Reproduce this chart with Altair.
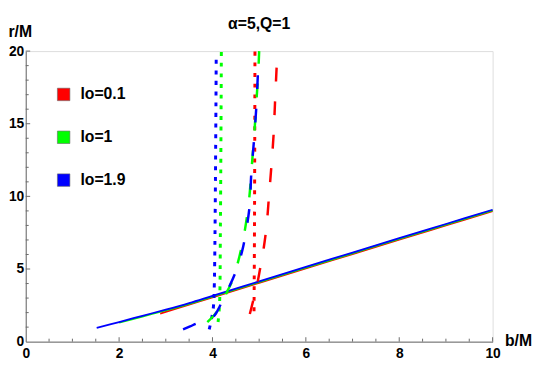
import altair as alt
import pandas as pd

# ---- data ----
series_names = ["lo=0.1", "lo=1", "lo=1.9"]
series_colors = ["#ff0000", "#00ff00", "#0000ff"]

# solid curves (b, r)
red_solid_b = [2.88, 3.5, 4.0, 5.0, 6.0, 7.0, 8.0, 9.0, 10.0]
red_solid_r = [1.93, 2.55, 3.05, 4.05, 5.05, 6.03, 7.02, 8.0, 8.98]
green_solid_b = [2.0, 2.5, 3.0, 3.5, 4.0, 5.0, 6.0, 7.0, 8.0, 9.0, 10.0]
green_solid_r = [1.3, 1.73, 2.15, 2.6, 3.1, 4.1, 5.1, 6.08, 7.07, 8.05, 9.03]
blue_solid_b = [1.52, 2.0, 2.5, 3.0, 3.5, 4.0, 5.0, 6.0, 7.0, 8.0, 9.0, 10.0]
blue_solid_r = [0.95, 1.35, 1.78, 2.2, 2.65, 3.15, 4.15, 5.15, 6.13, 7.12, 8.1, 9.08]

# dashed curves
red_dashed_b = [4.8, 4.87, 4.96, 5.03, 5.1, 5.16, 5.21, 5.26, 5.31, 5.34, 5.38]
red_dashed_r = [1.9, 2.8, 4.0, 5.2, 6.5, 8.0, 10.0, 12.0, 14.3, 16.5, 19.3]
green_dashed_b = [3.89, 4.03, 4.16, 4.33, 4.43, 4.58, 4.7, 4.79, 4.84, 4.9, 4.94, 4.98, 5.0]
green_dashed_r = [1.35, 1.8, 2.37, 3.55, 4.22, 5.9, 7.8, 9.97, 12.0, 14.5, 16.5, 18.5, 20.0]
blue_dashed_b = [3.37, 3.52, 3.66, 3.85, 4.0, 4.12, 4.22, 4.37, 4.52, 4.64, 4.73, 4.8, 4.83, 4.89, 4.94, 4.98]
blue_dashed_r = [0.85, 1.05, 1.25, 1.45, 1.65, 2.2, 2.9, 3.86, 5.0, 6.3, 7.8, 9.5, 11.5, 13.9, 16.2, 19.0]

# dotted curves
red_dotted_b = [4.89, 4.9, 4.91]
red_dotted_r = [2.1, 8.0, 20.0]
green_dotted_b = [4.12, 4.15, 4.17, 4.19]
green_dotted_r = [1.35, 2.5, 8.0, 20.0]
blue_dotted_b = [3.93, 3.97, 4.02, 4.04, 4.08]
blue_dotted_r = [0.85, 1.4, 2.4, 4.0, 19.6]

x_major_ticks = [2, 4, 6, 8, 10]
x_minor_ticks = [0.5, 1, 1.5, 2.5, 3, 3.5, 4.5, 5, 5.5, 6.5, 7, 7.5, 8.5, 9, 9.5]
y_major_ticks = [5, 10, 15, 20]
y_minor_ticks = [1, 2, 3, 4, 6, 7, 8, 9, 11, 12, 13, 14, 16, 17, 18, 19]
x_labels = [0, 2, 4, 6, 8, 10]
y_labels = [0, 5, 10, 15, 20]

curves = {
    ("solid", 0): (red_solid_b, red_solid_r),
    ("solid", 1): (green_solid_b, green_solid_r),
    ("solid", 2): (blue_solid_b, blue_solid_r),
    ("dotted", 0): (red_dotted_b, red_dotted_r),
    ("dotted", 1): (green_dotted_b, green_dotted_r),
    ("dotted", 2): (blue_dotted_b, blue_dotted_r),
    ("dashed", 0): (red_dashed_b, red_dashed_r),
    ("dashed", 1): (green_dashed_b, green_dashed_r),
    ("dashed", 2): (blue_dashed_b, blue_dashed_r),
}

W, H = 474, 295
FONT = "Liberation Sans"
AXIS_GRAY = "#6b6b6b"

xscale = alt.Scale(domain=[0, 10], nice=False, zero=False)
yscale = alt.Scale(domain=[0, 20], nice=False, zero=False)
cscale = alt.Scale(domain=series_names, range=series_colors)

xaxis = alt.Axis(values=x_labels, ticks=False, grid=False, domainColor=AXIS_GRAY,
                 labelFont=FONT, labelFontSize=14, labelFontWeight="bold",
                 labelColor="black", labelPadding=5, labelFlush=False,
                 title="b/M", titleFont=FONT, titleFontSize=16, titleFontWeight="bold",
                 titleColor="black", titleAlign="left", titleBaseline="middle",
                 titleX=486, titleY=-1.5, titleAngle=0)
yaxis = alt.Axis(values=y_labels, ticks=False, grid=False, domainColor=AXIS_GRAY,
                 labelFont=FONT, labelFontSize=14, labelFontWeight="bold",
                 labelColor="black", labelPadding=2, labelFlush=False,
                 title="r/M", titleFont=FONT, titleFontSize=16, titleFontWeight="bold",
                 titleColor="black", titleAlign="left", titleBaseline="alphabetic",
                 titleX=-18, titleY=-14.5, titleAngle=0)

styles = {
    "solid": dict(strokeWidth=1.8),
    "dotted": dict(strokeWidth=3, strokeDash=[4, 6.8]),
    "dashed": dict(strokeWidth=2.5, strokeDash=[14, 20]),
}

line_layers = []
for (style, k), (bs, rs) in curves.items():
    d = pd.DataFrame({"b": bs, "r": rs, "i": list(range(len(bs)))})
    line_layers.append(
        alt.Chart(d).mark_line(color=series_colors[k], interpolate="catmull-rom",
                               **styles[style]).encode(
            x=alt.X("b:Q", scale=xscale, axis=xaxis),
            y=alt.Y("r:Q", scale=yscale, axis=yaxis),
            order="i:Q",
        )
    )

# legend from an invisible filled-square layer
legend_df = pd.DataFrame({"series": series_names})
legend_layer = alt.Chart(legend_df).mark_square(filled=True, opacity=0, size=1).encode(
    color=alt.Color("series:N", scale=cscale, legend=alt.Legend(
        title=None, orient="none", legendX=30.5, legendY=36,
        symbolType="square", symbolSize=160, symbolOpacity=1,
        symbolStrokeColor="#666666", symbolStrokeWidth=0.6,
        labelFont=FONT, labelFontSize=16, labelFontWeight="bold", labelColor="black",
        labelOffset=9, rowPadding=27.5, padding=0)))

# inward tick marks
def xticks(vals, length):
    return alt.Chart(pd.DataFrame({"b": vals})).mark_rule(color=AXIS_GRAY, strokeWidth=1).encode(
        x=alt.X("b:Q", scale=xscale, axis=xaxis), y=alt.value(H), y2=alt.value(H - length))

def yticks(vals, length):
    return alt.Chart(pd.DataFrame({"r": vals})).mark_rule(color=AXIS_GRAY, strokeWidth=1).encode(
        y=alt.Y("r:Q", scale=yscale, axis=yaxis), x=alt.value(0), x2=alt.value(length))

chart = alt.layer(
    xticks(x_major_ticks, 4.5), xticks(x_minor_ticks, 3),
    yticks(y_major_ticks, 4.5), yticks(y_minor_ticks, 3),
    *line_layers, legend_layer,
).properties(
    width=W, height=H,
    title=alt.Title("α=5,Q=1", font=FONT, fontSize=16, fontWeight="bold", color="black",
                    anchor="middle", frame="group", offset=0, dy=8),
    autosize=alt.AutoSizeParams(type="none"),
    padding={"left": 18, "top": 41, "right": 40, "bottom": 24},
).configure_view(stroke=None).configure(background="white")

chart.save("out.html", embed_options={"renderer": "svg", "actions": False})
